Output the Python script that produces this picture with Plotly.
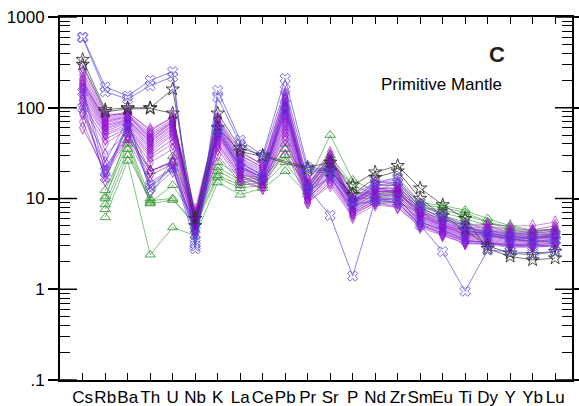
import plotly.graph_objects as go

ELEMENTS = ["Cs", "Rb", "Ba", "Th", "U", "Nb", "K", "La", "Ce", "Pb", "Pr",
            "Sr", "P", "Nd", "Zr", "Sm", "Eu", "Ti", "Dy", "Y", "Yb", "Lu"]

Y_TICK_VALS = [0.1, 1, 10, 100, 1000]
Y_TICK_TEXT = [".1", "1", "10", "100", "1000"]
Y_MINOR_VALS = [m * d for d in (0.1, 1, 10, 100) for m in range(2, 10)]

# green triangles
green_series = [
    [None, 12.3, 44, 10, 29, 6.5, 22, 16, 17, 40, 15, 50, 16, 12, 15, 9, 8.4, 7.4, 6, 5, 4.5, 4.5],
    [None, 10.5, 40, 9, 14, 6, 20, 15, 16, 35, 14, 30, 14, 11, 13, 8.5, 8, 7, 5.5, 4.5, 4.2, 4.3],
    [None, 8.6, 35, 8.8, 9.6, 5.5, 18, 14, 15, 30, 13, 26, 12, 10, 12, 8, 7, 6, 5, 4.2, 4, 4],
    [None, 7.6, 30, 9.5, 10, 5, 17, 13, 14, 25, 12, 24, 10, 10, 11, 7.5, 6.5, 5.5, 4.5, 4, 3.8, 3.8],
    [None, 6.2, 26, 2.4, 4.8, 3.9, 15, 11, 13, 20, 11, 22, 9, 9, 9, 7, 6, 5, 4, 3.6, 3.3, 3.4],
    [None, 10, 52, 20, 25, 7, 25, 18, 17, 30, 14, 28, 12, 11, 12, 8, 7.5, 6.5, 5.5, 4.8, 4.4, 4.6],
]

# purple diamonds
purple_series = [
    [250, 80, 90, 55, 80, 7, 75, 32, 24, 140, 16, 30, 10, 15, 15, 8, 6, 5, 5, 4.5, 4.5, 5],
    [230, 75, 85, 52, 75, 6.5, 70, 30, 22, 130, 15, 28, 9.5, 14, 14, 7.5, 5.8, 4.8, 4.8, 4.3, 4.3, 4.7],
    [210, 72, 82, 50, 72, 6.2, 68, 28, 21, 120, 14, 27, 9.5, 13, 13, 7.2, 5.5, 4.5, 4.5, 4.1, 4.1, 4.4],
    [200, 70, 80, 48, 70, 6, 65, 27, 20, 110, 13.5, 26, 9, 13, 13, 7, 5.4, 4.4, 4.4, 4, 4, 4.2],
    [190, 68, 78, 45, 68, 5.8, 62, 26, 19, 105, 13, 25, 9, 12.5, 12, 6.8, 5.2, 4.3, 4.3, 3.9, 3.9, 4.1],
    [180, 65, 75, 43, 65, 5.6, 60, 25, 18, 100, 12.5, 24, 8.8, 12, 12, 6.6, 5.1, 4.2, 4.2, 3.8, 3.8, 4],
    [170, 63, 73, 42, 63, 5.5, 58, 24, 18, 95, 12, 23, 8.6, 12, 11.5, 6.5, 5, 4.1, 4.1, 3.7, 3.7, 3.9],
    [160, 60, 72, 40, 60, 5.4, 56, 23, 17, 90, 12, 22, 8.5, 11.5, 11, 6.3, 4.9, 4, 4, 3.6, 3.6, 3.8],
    [150, 58, 70, 38, 58, 5.2, 54, 22, 17, 85, 11.5, 22, 8.3, 11, 11, 6.2, 4.8, 3.9, 3.9, 3.5, 3.5, 3.7],
    [140, 55, 68, 36, 55, 5, 52, 21, 16, 80, 11, 21, 8, 11, 10.5, 6, 4.7, 3.8, 3.8, 3.5, 3.4, 3.6],
    [130, 52, 65, 34, 52, 5, 50, 20, 16, 75, 11, 20, 7.8, 10.5, 10, 5.8, 4.6, 3.7, 3.7, 3.4, 3.3, 3.5],
    [120, 50, 62, 32, 50, 4.8, 48, 20, 15, 70, 10.5, 19, 7.5, 10, 10, 5.6, 4.5, 3.6, 3.6, 3.3, 3.3, 3.4],
    [110, 45, 60, 30, 45, 4.6, 45, 19, 15, 65, 10, 18, 7.3, 10, 9.5, 5.5, 4.4, 3.5, 3.5, 3.2, 3.2, 3.3],
    [100, 40, 58, 28, 40, 4.5, 42, 18, 14, 60, 10, 17, 7, 9.5, 9, 5.3, 4.3, 3.4, 3.4, 3.1, 3.1, 3.2],
    [90, 30, 55, 25, 35, 4.3, 38, 17, 14, 55, 9.5, 16, 6.8, 9, 8.5, 5.1, 4.2, 3.3, 3.3, 3, 3, 3.1],
    [85, 22, 50, 20, 26, 4.2, 35, 16, 13, 45, 9, 15, 6.5, 9, 8, 5, 4, 3.2, 3.2, 3, 3, 3],
    [70, 18, 45, 15, 22, 4, 30, 15, 13, 35, 9, 14, 6.2, 8.5, 8, 4.8, 3.9, 3.2, 3.1, 2.9, 2.9, 3],
    [160, 25, 75, 12, 20, 5, 50, 22, 16, 100, 12, 24, 9, 12, 12, 6.5, 5, 4, 4, 3.6, 3.6, 3.8],
    [120, 16, 65, 20, 25, 5.5, 55, 23, 17, 120, 13, 27, 9.5, 13, 12, 7, 5.2, 4.3, 4.2, 3.8, 3.7, 4],
    [180, 78, 88, 58, 78, 7.5, 78, 34, 23, 145, 16, 32, 11, 15, 16, 8.5, 6.5, 5.2, 5.2, 5, 5, 5.5],
    [280, 85, 85, 45, 70, 6.5, 72, 30, 22, 125, 14, 29, 9, 14, 14, 7.5, 5.6, 4.6, 4.6, 4.2, 4.2, 4.6],
    [60, 20, 48, 18, 24, 4.5, 40, 18, 14, 50, 10, 18, 7, 9.5, 9, 5.2, 4.1, 3.4, 3.3, 3.1, 3.1, 3.2],
]

# black stars
star_series = [
    [340, 95, 100, 100, 160, 6, 87, 36, 30, None, 22, 25, 14, 19.5, 23, 13, 8.5, 6, 2.8, 2.3, 2.1, 2.2],
    [300, 90, 97, 98, 87, 5, 60, 33, 29, None, 21, 20, 11, 17, 20, 10, 6.5, 4.5, 3.0, 2.5, 2.4, 2.6],
]

# blue crosses
cross_series = [
    [600, 170, 135, 200, 250, 3.0, 155, 44, 30, 210, 22, 21, 9.5, 15, 17, 9, 6.5, 5, 4.2, 3.8, 3.6, 3.8],
    [590, 150, 125, 175, 220, 2.8, 130, 40, 28, 160, 20, 19, 9, 14, 15, 8, 6, 4.5, 4, 3.6, 3.4, 3.5],
    [100, 17, 70, 14, 22, 4, 55, 22, 17, 90, 13, 6.5, 1.4, 9.5, 10, 5.5, 4.5, 3.5, 3.2, 3, 3, 3],
    [150, 20, 60, 13, 22, 3.2, 60, 25, 18, 110, 12, 17, 8, 10, 9, 5.1, 2.6, 0.95, 2.7, 2.6, 2.5, 2.6],
]

fig = go.Figure()

def add_group(series_list, line_color, marker_color, symbol, size, connect=False):
    for vals in series_list:
        fig.add_trace(go.Scatter(
            x=ELEMENTS, y=vals, mode="lines+markers",
            connectgaps=connect,
            line=dict(color=line_color, width=0.8),
            marker=dict(symbol=symbol, size=size, color=marker_color,
                        line=dict(color=marker_color, width=1)),
            showlegend=False, hoverinfo="skip"))

add_group(green_series, "rgba(60,160,60,0.8)", "rgba(50,150,50,0.85)", "triangle-up-open", 9)
purple_colors = ["rgba(150,0,205,0.7)", "rgba(160,30,200,0.65)", "rgba(125,20,215,0.65)"]
for i, vals in enumerate(purple_series):
    c = purple_colors[i % 3]
    fig.add_trace(go.Scatter(
        x=ELEMENTS, y=vals, mode="lines+markers",
        line=dict(color=c, width=0.8),
        marker=dict(symbol="diamond-tall-open", size=9, color=c, line=dict(color=c, width=1)),
        showlegend=False, hoverinfo="skip"))
add_group(star_series, "rgba(40,40,40,0.8)", "rgba(40,40,40,0.85)", "star-open", 10, connect=True)
add_group(cross_series, "rgba(70,60,220,0.8)", "rgba(90,80,225,0.85)", "x-open", 9)

PW = 512.0
shapes = []
for v in Y_TICK_VALS:
    shapes.append(dict(type="line", xref="paper", yref="y", x0=0, x1=17 / PW, y0=v, y1=v,
                       line=dict(color="black", width=1.5)))
    shapes.append(dict(type="line", xref="paper", yref="y", x0=1 - 17 / PW, x1=1, y0=v, y1=v,
                       line=dict(color="black", width=1.5)))

fig.update_layout(
    width=579, height=406,
    margin=dict(l=60, r=7, t=17, b=26, autoexpand=False),
    plot_bgcolor="white", paper_bgcolor="white",
    font=dict(family="Liberation Sans, Arial, sans-serif", color="black"),
    shapes=shapes,
    xaxis=dict(
        type="category", categoryorder="array", categoryarray=ELEMENTS,
        range=[-1.01, 21.75], tickmode="array", tickvals=ELEMENTS, ticktext=ELEMENTS,
        tickangle=0, automargin=False,
        ticks="inside", ticklen=7, tickwidth=1.3, tickcolor="black",
        showline=True, linecolor="black", linewidth=2, mirror="ticks",
        showgrid=False, zeroline=False, tickfont=dict(size=17), ticklabelstandoff=1),
    yaxis=dict(
        type="log", range=[-1, 3], tickmode="array", tickvals=Y_TICK_VALS, ticktext=Y_TICK_TEXT,
        automargin=False,
        ticks="outside", ticklen=10, tickwidth=1.5, tickcolor="black",
        minor=dict(tickmode="array", tickvals=Y_MINOR_VALS, ticks="inside", ticklen=10,
                   tickwidth=1.2, tickcolor="black", showgrid=False),
        showline=True, linecolor="black", linewidth=2, mirror="ticks",
        showgrid=False, zeroline=False, tickfont=dict(size=17)),
    annotations=[
        dict(text="<b>C</b>", xref="paper", yref="paper", x=0.854, y=0.896,
             showarrow=False, font=dict(size=22, color="#222"), xanchor="center", yanchor="middle"),
        dict(text="Primitive Mantle", xref="paper", yref="paper", x=0.746, y=0.815,
             showarrow=False, font=dict(size=17, color="black"), xanchor="center", yanchor="middle"),
    ],
)

fig.write_html("out.html")
